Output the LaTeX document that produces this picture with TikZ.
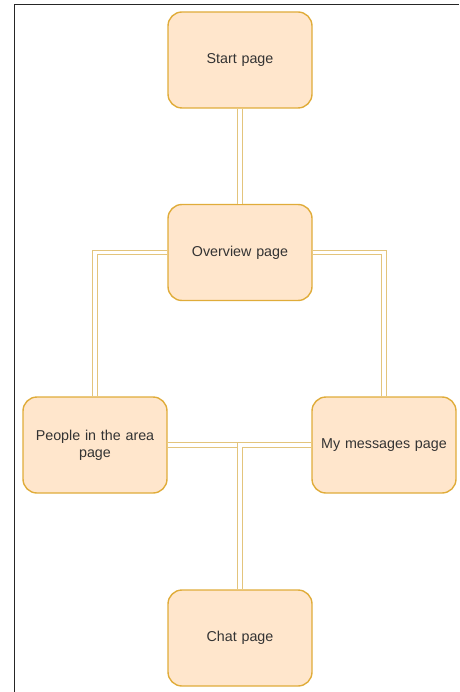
\documentclass[tikz,border=0pt]{standalone}
\usepackage{fontspec}
\setmainfont{Liberation Sans}
\definecolor{boxfill}{HTML}{FFE6CC}
\definecolor{boxline}{HTML}{E0AC3A}
\definecolor{linkline}{HTML}{E3C47C}
\definecolor{txt}{HTML}{333333}
\tikzset{
  pagebox/.style={draw=boxline, fill=boxfill, line width=1.4pt, rounded corners=14pt,
    minimum width=144pt, minimum height=96pt, text width=128pt, align=center,
    font=\fontsize{14.3pt}{17pt}\selectfont, text=txt, inner sep=0pt},
  linkedge/.style={draw=linkline, line width=1pt, double=white, double distance=3.4pt},
  frameline/.style={draw=black!85, line width=1.5pt}
}
\begin{document}
\begin{tikzpicture}[x=1pt,y=-1pt]
\useasboundingbox (0,0) rectangle (459,692);
\coordinate (ftop) at (14.5,4.5);
\coordinate (fright) at (459,4.5);
\coordinate (fbot) at (14.5,692);
\draw[frameline] (fbot) -- (ftop) -- (fright);

\node[pagebox] (st) at (240,60) {Start page};
\node[pagebox] (ov) at (240,252.5) {Overview page};
\node[pagebox] (pp) at (95,445) {People in the area\\page};
\node[pagebox] (mm) at (384,445) {My messages page};
\node[pagebox] (ch) at (240,638) {Chat page};

\begin{scope}[on background layer/.style={}]
\end{scope}
\draw[linkedge] (st.south) -- (ov.north);
\draw[linkedge] (ov.west) -| (pp.north);
\draw[linkedge] (ov.east) -| (mm.north);
\draw[linkedge] (pp.east) -| (ch.north);
\draw[linkedge] (mm.west) -| (ch.north);
\end{tikzpicture}
\end{document}
